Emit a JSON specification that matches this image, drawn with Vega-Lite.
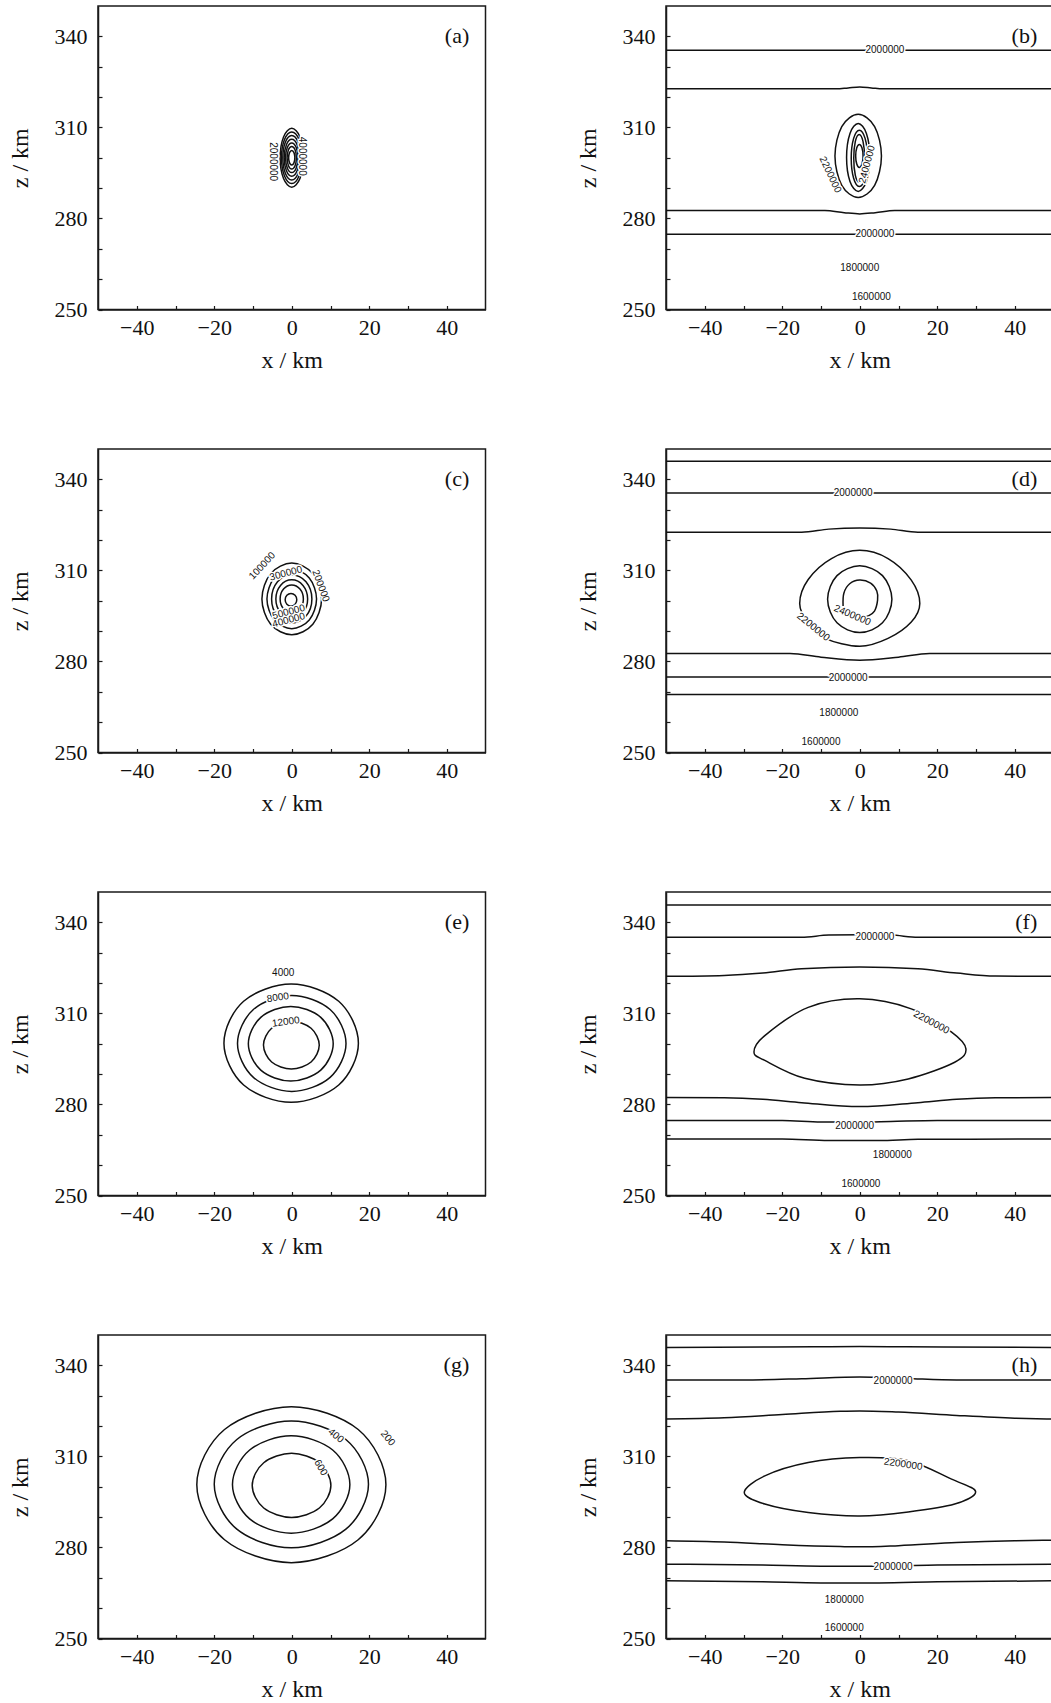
{
"$schema":"https://vega.github.io/schema/vega-lite/v6.json",
"background":"white",
"padding":{"left":7,"top":5,"right":0,"bottom":0},
"columns":2,
"spacing":{"row":139,"column":180},
"bounds":"flush",
"config":{
"view":{"stroke":"#1a1a1a","strokeWidth":1.5},
"axis":{"grid":false,"domainColor":"#1a1a1a","domainWidth":1.5,"tickColor":"#1a1a1a","tickWidth":1.2,"tickSize":-4,"labelFont":"Liberation Serif","labelFontSize":22,"labelColor":"#111","titleFont":"Liberation Serif","titleFontSize":24,"titleFontWeight":"normal","titleColor":"#111","labelOverlap":false,"labelFlush":false},
"axisX":{"labelPadding":12,"titlePadding":10},
"axisY":{"labelPadding":15,"titlePadding":22}
},
"datasets":{
"a_c":[
{"c":1,"x":3.0,"z":300},{"c":1,"x":2.12,"z":306.86},{"c":1,"x":0,"z":309.7},{"c":1,"x":-2.12,"z":306.86},{"c":1,"x":-3.0,"z":300},{"c":1,"x":-2.12,"z":293.14},{"c":1,"x":0,"z":290.3},{"c":1,"x":2.12,"z":293.14},
{"c":2,"x":2.65,"z":300},{"c":2,"x":1.87,"z":306.01},{"c":2,"x":0,"z":308.5},{"c":2,"x":-1.87,"z":306.01},{"c":2,"x":-2.65,"z":300},{"c":2,"x":-1.87,"z":293.99},{"c":2,"x":0,"z":291.5},{"c":2,"x":1.87,"z":293.99},
{"c":3,"x":2.3,"z":300},{"c":3,"x":1.63,"z":305.16},{"c":3,"x":0,"z":307.3},{"c":3,"x":-1.63,"z":305.16},{"c":3,"x":-2.3,"z":300},{"c":3,"x":-1.63,"z":294.84},{"c":3,"x":0,"z":292.7},{"c":3,"x":1.63,"z":294.84},
{"c":4,"x":1.95,"z":300},{"c":4,"x":1.38,"z":304.31},{"c":4,"x":0,"z":306.1},{"c":4,"x":-1.38,"z":304.31},{"c":4,"x":-1.95,"z":300},{"c":4,"x":-1.38,"z":295.69},{"c":4,"x":0,"z":293.9},{"c":4,"x":1.38,"z":295.69},
{"c":5,"x":1.6,"z":300},{"c":5,"x":1.13,"z":303.46},{"c":5,"x":0,"z":304.9},{"c":5,"x":-1.13,"z":303.46},{"c":5,"x":-1.6,"z":300},{"c":5,"x":-1.13,"z":296.54},{"c":5,"x":0,"z":295.1},{"c":5,"x":1.13,"z":296.54},
{"c":6,"x":1.2,"z":300},{"c":6,"x":0.85,"z":302.62},{"c":6,"x":0,"z":303.7},{"c":6,"x":-0.85,"z":302.62},{"c":6,"x":-1.2,"z":300},{"c":6,"x":-0.85,"z":297.38},{"c":6,"x":0,"z":296.3},{"c":6,"x":0.85,"z":297.38},
{"c":7,"x":0.8,"z":300},{"c":7,"x":0.57,"z":301.7},{"c":7,"x":0,"z":302.4},{"c":7,"x":-0.57,"z":301.7},{"c":7,"x":-0.8,"z":300},{"c":7,"x":-0.57,"z":298.3},{"c":7,"x":0,"z":297.6},{"c":7,"x":0.57,"z":298.3}
],
"a_l":[{"x":-4.9,"z":298.7,"t":"2000000","ang":90},{"x":2.6,"z":300.5,"t":"4000000","ang":90}],
"b_c":[
{"c":1,"x":5.6,"z":300.6},{"c":1,"x":3.84,"z":310.29},{"c":1,"x":-0.4,"z":314.3},{"c":1,"x":-4.64,"z":310.29},{"c":1,"x":-6.4,"z":300.6},{"c":1,"x":-4.64,"z":290.91},{"c":1,"x":-0.4,"z":286.9},{"c":1,"x":3.84,"z":290.91},
{"c":2,"x":2.6,"z":300.1},{"c":2,"x":1.72,"z":308.02},{"c":2,"x":-0.4,"z":311.3},{"c":2,"x":-2.52,"z":308.02},{"c":2,"x":-3.4,"z":300.1},{"c":2,"x":-2.52,"z":292.18},{"c":2,"x":-0.4,"z":288.9},{"c":2,"x":1.72,"z":292.18},
{"c":3,"x":2.0,"z":299.8},{"c":3,"x":1.38,"z":306.38},{"c":3,"x":-0.1,"z":309.1},{"c":3,"x":-1.58,"z":306.38},{"c":3,"x":-2.2,"z":299.8},{"c":3,"x":-1.58,"z":293.22},{"c":3,"x":-0.1,"z":290.5},{"c":3,"x":1.38,"z":293.22},
{"c":4,"x":1.25,"z":299.8},{"c":4,"x":0.84,"z":305.39},{"c":4,"x":-0.15,"z":307.7},{"c":4,"x":-1.14,"z":305.39},{"c":4,"x":-1.55,"z":299.8},{"c":4,"x":-1.14,"z":294.21},{"c":4,"x":-0.15,"z":291.9},{"c":4,"x":0.84,"z":294.21},
{"c":5,"x":0.85,"z":300.6},{"c":5,"x":0.57,"z":303.29},{"c":5,"x":-0.1,"z":304.4},{"c":5,"x":-0.77,"z":303.29},{"c":5,"x":-1.05,"z":300.6},{"c":5,"x":-0.77,"z":297.91},{"c":5,"x":-0.1,"z":296.8},{"c":5,"x":0.57,"z":297.91}
],
"b_o":[
{"c":1,"x":-50,"z":335.4},{"c":1,"x":50,"z":335.4},
{"c":2,"x":-50,"z":322.7},{"c":2,"x":-6,"z":322.7},{"c":2,"x":-3,"z":323.0},{"c":2,"x":0,"z":323.3},{"c":2,"x":3,"z":323.0},{"c":2,"x":6,"z":322.7},{"c":2,"x":50,"z":322.7},
{"c":3,"x":-50,"z":282.6},{"c":3,"x":-9,"z":282.6},{"c":3,"x":-4,"z":281.9},{"c":3,"x":0,"z":281.5},{"c":3,"x":4,"z":281.9},{"c":3,"x":9,"z":282.6},{"c":3,"x":50,"z":282.6},
{"c":4,"x":-50,"z":274.8},{"c":4,"x":50,"z":274.8}
],
"b_l":[{"x":6.5,"z":335.4,"t":"2000000","ang":0},{"x":3.9,"z":274.8,"t":"2000000","ang":0},{"x":0,"z":263.7,"t":"1800000","ang":0},{"x":3,"z":254,"t":"1600000","ang":0},{"x":-7.6,"z":294.4,"t":"2200000","ang":65},{"x":1.9,"z":297.8,"t":"2400000","ang":-75}],
"c_c":[
{"c":1,"x":7.7,"z":300.6},{"c":1,"x":5.44,"z":308.94},{"c":1,"x":0,"z":312.4},{"c":1,"x":-5.44,"z":308.94},{"c":1,"x":-7.7,"z":300.6},{"c":1,"x":-5.44,"z":292.26},{"c":1,"x":0,"z":288.8},{"c":1,"x":5.44,"z":292.26},
{"c":2,"x":6.4,"z":300.6},{"c":2,"x":4.52,"z":307.53},{"c":2,"x":0,"z":310.4},{"c":2,"x":-4.52,"z":307.53},{"c":2,"x":-6.4,"z":300.6},{"c":2,"x":-4.52,"z":293.67},{"c":2,"x":0,"z":290.8},{"c":2,"x":4.52,"z":293.67},
{"c":3,"x":5.2,"z":300.6},{"c":3,"x":3.68,"z":306.26},{"c":3,"x":0,"z":308.6},{"c":3,"x":-3.68,"z":306.26},{"c":3,"x":-5.2,"z":300.6},{"c":3,"x":-3.68,"z":294.94},{"c":3,"x":0,"z":292.6},{"c":3,"x":3.68,"z":294.94},
{"c":4,"x":4.1,"z":300.6},{"c":4,"x":2.9,"z":305.05},{"c":4,"x":0,"z":306.9},{"c":4,"x":-2.9,"z":305.05},{"c":4,"x":-4.1,"z":300.6},{"c":4,"x":-2.9,"z":296.15},{"c":4,"x":0,"z":294.3},{"c":4,"x":2.9,"z":296.15},
{"c":5,"x":3,"z":300.6},{"c":5,"x":2.12,"z":303.85},{"c":5,"x":0,"z":305.2},{"c":5,"x":-2.12,"z":303.85},{"c":5,"x":-3,"z":300.6},{"c":5,"x":-2.12,"z":297.35},{"c":5,"x":0,"z":296},{"c":5,"x":2.12,"z":297.35},
{"c":6,"x":1.3,"z":300.3},{"c":6,"x":0.86,"z":301.78},{"c":6,"x":-0.2,"z":302.4},{"c":6,"x":-1.26,"z":301.78},{"c":6,"x":-1.7,"z":300.3},{"c":6,"x":-1.26,"z":298.82},{"c":6,"x":-0.2,"z":298.2},{"c":6,"x":0.86,"z":298.82}
],
"c_l":[{"x":-7.6,"z":311.5,"t":"100000","ang":-47},{"x":-1.5,"z":309,"t":"300000","ang":-15},{"x":7.5,"z":304.9,"t":"200000","ang":70},{"x":-0.8,"z":296.3,"t":"500000","ang":-15},{"x":-0.8,"z":293.6,"t":"400000","ang":-15}],
"d_c":[
{"c":1,"x":-15.5,"z":299.1},{"c":1,"x":-13.3,"z":307},{"c":1,"x":-7.3,"z":313.9},{"c":1,"x":0,"z":316.6},{"c":1,"x":7.3,"z":313.9},{"c":1,"x":13.3,"z":306.8},{"c":1,"x":15.5,"z":299.1},{"c":1,"x":13.3,"z":293},{"c":1,"x":7.3,"z":287.6},{"c":1,"x":0,"z":285},{"c":1,"x":-9,"z":287.6},{"c":1,"x":-13.3,"z":292.5},
{"c":2,"x":8.3,"z":300.5},{"c":2,"x":5.87,"z":308.28},{"c":2,"x":0,"z":311.5},{"c":2,"x":-5.87,"z":308.28},{"c":2,"x":-8.3,"z":300.5},{"c":2,"x":-5.87,"z":292.72},{"c":2,"x":0,"z":289.5},{"c":2,"x":5.87,"z":292.72}
],
"d_arc":[{"c":1,"x":-4.3,"z":298.3},{"c":1,"x":-4.1,"z":302.5},{"c":1,"x":-2.6,"z":305.6},{"c":1,"x":0,"z":306.8},{"c":1,"x":2.8,"z":305.8},{"c":1,"x":4.4,"z":303.2},{"c":1,"x":4.6,"z":300.2},{"c":1,"x":3.8,"z":296.6},{"c":1,"x":2.2,"z":295},{"c":1,"x":0.6,"z":294.6}],
"d_o":[
{"c":1,"x":-50,"z":346},{"c":1,"x":50,"z":346},
{"c":2,"x":-50,"z":335.5},{"c":2,"x":50,"z":335.5},
{"c":3,"x":-50,"z":322.6},{"c":3,"x":-15,"z":322.6},{"c":3,"x":-8,"z":323.6},{"c":3,"x":0,"z":324},{"c":3,"x":8,"z":323.6},{"c":3,"x":15,"z":322.6},{"c":3,"x":50,"z":322.6},
{"c":4,"x":-50,"z":282.6},{"c":4,"x":-18,"z":282.6},{"c":4,"x":-10,"z":281.4},{"c":4,"x":0,"z":280.4},{"c":4,"x":10,"z":281.4},{"c":4,"x":18,"z":282.6},{"c":4,"x":50,"z":282.6},
{"c":5,"x":-50,"z":274.9},{"c":5,"x":50,"z":274.9},
{"c":6,"x":-50,"z":269.1},{"c":6,"x":50,"z":269.1}
],
"d_l":[{"x":-1.7,"z":335.5,"t":"2000000","ang":0},{"x":-1.9,"z":295.2,"t":"2400000","ang":23},{"x":-12,"z":291.4,"t":"2200000","ang":39},{"x":-3,"z":274.6,"t":"2000000","ang":0},{"x":-5.4,"z":263,"t":"1800000","ang":0},{"x":-10,"z":253.5,"t":"1600000","ang":0}],
"e_c":[
{"c":1,"x":17.2,"z":300.2},{"c":1,"x":12.12,"z":313.99},{"c":1,"x":-0.15,"z":319.7},{"c":1,"x":-12.42,"z":313.99},{"c":1,"x":-17.5,"z":300.2},{"c":1,"x":-12.42,"z":286.41},{"c":1,"x":-0.15,"z":280.7},{"c":1,"x":12.12,"z":286.41},
{"c":2,"x":14,"z":300.1},{"c":2,"x":9.9,"z":311.27},{"c":2,"x":0,"z":315.9},{"c":2,"x":-9.9,"z":311.27},{"c":2,"x":-14,"z":300.1},{"c":2,"x":-9.9,"z":288.93},{"c":2,"x":0,"z":284.3},{"c":2,"x":9.9,"z":288.93},
{"c":3,"x":10.7,"z":300},{"c":3,"x":7.49,"z":308.7},{"c":3,"x":-0.25,"z":312.3},{"c":3,"x":-7.99,"z":308.7},{"c":3,"x":-11.2,"z":300},{"c":3,"x":-7.99,"z":291.3},{"c":3,"x":-0.25,"z":287.7},{"c":3,"x":7.49,"z":291.3},
{"c":4,"x":7.1,"z":299.55},{"c":4,"x":4.99,"z":305.1},{"c":4,"x":-0.1,"z":307.4},{"c":4,"x":-5.19,"z":305.1},{"c":4,"x":-7.3,"z":299.55},{"c":4,"x":-5.19,"z":294},{"c":4,"x":-0.1,"z":291.7},{"c":4,"x":4.99,"z":294}
],
"e_l":[{"x":-2.2,"z":323.2,"t":"4000","ang":0},{"x":-3.6,"z":315.2,"t":"8000","ang":-8},{"x":-1.5,"z":307.2,"t":"12000","ang":-8}],
"f_c":[
{"c":1,"x":-27.3,"z":297.3},{"c":1,"x":-24.5,"z":302.7},{"c":1,"x":-13.3,"z":312},{"c":1,"x":0,"z":314.8},{"c":1,"x":13.3,"z":311.5},{"c":1,"x":23.7,"z":303.8},{"c":1,"x":27.4,"z":298.3},{"c":1,"x":24.5,"z":293.9},{"c":1,"x":12.5,"z":288.4},{"c":1,"x":0,"z":286.4},{"c":1,"x":-14.2,"z":288.6},{"c":1,"x":-24.5,"z":294.5}
],
"f_o":[
{"c":1,"x":-50,"z":345.7},{"c":1,"x":50,"z":345.7},
{"c":2,"x":-50,"z":335.1},{"c":2,"x":-15,"z":335.1},{"c":2,"x":-8,"z":335.8},{"c":2,"x":0,"z":335.9},{"c":2,"x":8,"z":335.8},{"c":2,"x":15,"z":335.1},{"c":2,"x":50,"z":335.1},
{"c":3,"x":-50,"z":322.2},{"c":3,"x":-35,"z":322.5},{"c":3,"x":-25,"z":323.3},{"c":3,"x":-15,"z":324.7},{"c":3,"x":0,"z":325.3},{"c":3,"x":15,"z":324.7},{"c":3,"x":25,"z":323.3},{"c":3,"x":35,"z":322.3},{"c":3,"x":50,"z":322.2},
{"c":4,"x":-50,"z":282.3},{"c":4,"x":-35,"z":282.2},{"c":4,"x":-25,"z":281.7},{"c":4,"x":-15,"z":280.6},{"c":4,"x":0,"z":279.3},{"c":4,"x":15,"z":280.6},{"c":4,"x":25,"z":281.7},{"c":4,"x":35,"z":282.2},{"c":4,"x":50,"z":282.3},
{"c":5,"x":-50,"z":274.7},{"c":5,"x":-20,"z":274.7},{"c":5,"x":-10,"z":274.2},{"c":5,"x":0,"z":274.2},{"c":5,"x":8,"z":274.4},{"c":5,"x":20,"z":274.7},{"c":5,"x":50,"z":274.7},
{"c":6,"x":-50,"z":268.6},{"c":6,"x":-20,"z":268.6},{"c":6,"x":-8,"z":268.1},{"c":6,"x":5,"z":268.1},{"c":6,"x":15,"z":268.5},{"c":6,"x":50,"z":268.6}
],
"f_l":[{"x":3.9,"z":335.1,"t":"2000000","ang":0},{"x":18.5,"z":307.1,"t":"2200000","ang":28},{"x":-1.3,"z":272.8,"t":"2000000","ang":0},{"x":8.4,"z":263.2,"t":"1800000","ang":0},{"x":0.3,"z":253.8,"t":"1600000","ang":0}],
"g_c":[
{"c":1,"x":24.3,"z":300.7},{"c":1,"x":17.15,"z":318.87},{"c":1,"x":-0.1,"z":326.4},{"c":1,"x":-17.35,"z":318.87},{"c":1,"x":-24.5,"z":300.7},{"c":1,"x":-17.35,"z":282.53},{"c":1,"x":-0.1,"z":275},{"c":1,"x":17.15,"z":282.53},
{"c":2,"x":19.8,"z":300.8},{"c":2,"x":13.97,"z":315.58},{"c":2,"x":-0.1,"z":321.7},{"c":2,"x":-14.17,"z":315.58},{"c":2,"x":-20,"z":300.8},{"c":2,"x":-14.17,"z":286.02},{"c":2,"x":-0.1,"z":279.9},{"c":2,"x":13.97,"z":286.02},
{"c":3,"x":15,"z":300.75},{"c":3,"x":10.56,"z":312.1},{"c":3,"x":-0.15,"z":316.8},{"c":3,"x":-10.86,"z":312.1},{"c":3,"x":-15.3,"z":300.75},{"c":3,"x":-10.86,"z":289.4},{"c":3,"x":-0.15,"z":284.7},{"c":3,"x":10.56,"z":289.4},
{"c":4,"x":10.1,"z":300.45},{"c":4,"x":7.13,"z":307.91},{"c":4,"x":-0.05,"z":311},{"c":4,"x":-7.23,"z":307.91},{"c":4,"x":-10.2,"z":300.45},{"c":4,"x":-7.23,"z":292.99},{"c":4,"x":-0.05,"z":289.9},{"c":4,"x":7.13,"z":292.99}
],
"g_l":[{"x":24.8,"z":316,"t":"200","ang":50},{"x":11.4,"z":316.8,"t":"400","ang":40},{"x":7.5,"z":306.3,"t":"600","ang":60}],
"h_c":[
{"c":1,"x":-29.8,"z":298.1},{"c":1,"x":-24.5,"z":303.6},{"c":1,"x":-13.3,"z":308},{"c":1,"x":0,"z":309.6},{"c":1,"x":12.5,"z":308.6},{"c":1,"x":23.7,"z":302.5},{"c":1,"x":29.9,"z":298.4},{"c":1,"x":24.5,"z":294.3},{"c":1,"x":12.5,"z":291.7},{"c":1,"x":0,"z":290.4},{"c":1,"x":-13.3,"z":291.5},{"c":1,"x":-24.5,"z":294.3}
],
"h_o":[
{"c":1,"x":-50,"z":345.9},{"c":1,"x":-12,"z":346.1},{"c":1,"x":0,"z":346.2},{"c":1,"x":12,"z":346.1},{"c":1,"x":50,"z":345.9},
{"c":2,"x":-50,"z":335.2},{"c":2,"x":-30,"z":335.2},{"c":2,"x":-15,"z":335.6},{"c":2,"x":0,"z":336.2},{"c":2,"x":12,"z":335.7},{"c":2,"x":25,"z":335.2},{"c":2,"x":50,"z":335.2},
{"c":3,"x":-50,"z":322.3},{"c":3,"x":-35,"z":322.7},{"c":3,"x":-20,"z":323.8},{"c":3,"x":-5,"z":324.9},{"c":3,"x":0,"z":325},{"c":3,"x":10,"z":324.6},{"c":3,"x":25,"z":323.5},{"c":3,"x":40,"z":322.6},{"c":3,"x":50,"z":322.3},
{"c":4,"x":-50,"z":282.2},{"c":4,"x":-35,"z":281.8},{"c":4,"x":-20,"z":280.9},{"c":4,"x":-5,"z":280.3},{"c":4,"x":0,"z":280.2},{"c":4,"x":10,"z":280.6},{"c":4,"x":25,"z":281.6},{"c":4,"x":40,"z":282.2},{"c":4,"x":50,"z":282.4},
{"c":5,"x":-50,"z":274.5},{"c":5,"x":-25,"z":274.2},{"c":5,"x":-10,"z":273.8},{"c":5,"x":5,"z":273.8},{"c":5,"x":20,"z":274.2},{"c":5,"x":50,"z":274.5},
{"c":6,"x":-50,"z":269},{"c":6,"x":-25,"z":268.7},{"c":6,"x":-10,"z":268.3},{"c":6,"x":5,"z":268.3},{"c":6,"x":20,"z":268.7},{"c":6,"x":50,"z":269}
],
"h_l":[{"x":8.6,"z":334.8,"t":"2000000","ang":0},{"x":11.2,"z":307.4,"t":"2200000","ang":8},{"x":8.6,"z":273.4,"t":"2000000","ang":0},{"x":-4,"z":262.7,"t":"1800000","ang":0},{"x":-4,"z":253.6,"t":"1600000","ang":0}]
},
"concat":[
{"width":387.5,"height":303.5,
"encoding":{"x":{"field":"x","type":"quantitative","scale":{"domain":[-50,50],"nice":false,"zero":false},"axis":{"title":"x / km","values":[-40,-30,-20,-10,0,10,20,30,40],"labelExpr":"datum.value % 20 === 0 ? datum.label : ''"}},"y":{"field":"z","type":"quantitative","scale":{"domain":[250,350],"nice":false,"zero":false},"axis":{"title":"z / km","values":[250,260,270,280,290,300,310,320,330,340],"labelExpr":"(datum.value - 250) % 30 === 0 ? datum.label : ''"}}},
"layer":[
{"data":{"name":"a_c"},"mark":{"type":"line","interpolate":"cardinal-closed","color":"#111","strokeWidth":1.5,"clip":true},"encoding":{"detail":{"field":"c"},"order":{"value":null}}},
{"data":{"name":"a_l"},"mark":{"type":"text","font":"Liberation Sans","fontSize":10,"fill":"white","stroke":"white","strokeWidth":3},"encoding":{"text":{"field":"t"},"angle":{"field":"ang","type":"quantitative","scale":null}}},
{"data":{"name":"a_l"},"mark":{"type":"text","font":"Liberation Sans","fontSize":10,"color":"#111"},"encoding":{"text":{"field":"t"},"angle":{"field":"ang","type":"quantitative","scale":null}}},
{"data":{"values":[{"x":45.8,"z":340,"t":"(a)"}]},"mark":{"type":"text","align":"right","font":"Liberation Serif","fontSize":22,"color":"#111"},"encoding":{"text":{"field":"t"}}}
]},
{"width":387.5,"height":303.5,
"encoding":{"x":{"field":"x","type":"quantitative","scale":{"domain":[-50,50],"nice":false,"zero":false},"axis":{"title":"x / km","values":[-40,-30,-20,-10,0,10,20,30,40],"labelExpr":"datum.value % 20 === 0 ? datum.label : ''"}},"y":{"field":"z","type":"quantitative","scale":{"domain":[250,350],"nice":false,"zero":false},"axis":{"title":"z / km","values":[250,260,270,280,290,300,310,320,330,340],"labelExpr":"(datum.value - 250) % 30 === 0 ? datum.label : ''"}}},
"layer":[
{"data":{"name":"b_c"},"mark":{"type":"line","interpolate":"cardinal-closed","color":"#111","strokeWidth":1.5,"clip":true},"encoding":{"detail":{"field":"c"},"order":{"value":null}}},
{"data":{"name":"b_o"},"mark":{"type":"line","interpolate":"monotone","color":"#111","strokeWidth":1.5,"clip":true},"encoding":{"detail":{"field":"c"},"order":{"value":null}}},
{"data":{"name":"b_l"},"mark":{"type":"text","font":"Liberation Sans","fontSize":10,"fill":"white","stroke":"white","strokeWidth":3},"encoding":{"text":{"field":"t"},"angle":{"field":"ang","type":"quantitative","scale":null}}},
{"data":{"name":"b_l"},"mark":{"type":"text","font":"Liberation Sans","fontSize":10,"color":"#111"},"encoding":{"text":{"field":"t"},"angle":{"field":"ang","type":"quantitative","scale":null}}},
{"data":{"values":[{"x":45.8,"z":340,"t":"(b)"}]},"mark":{"type":"text","align":"right","font":"Liberation Serif","fontSize":22,"color":"#111"},"encoding":{"text":{"field":"t"}}}
]},
{"width":387.5,"height":303.5,
"encoding":{"x":{"field":"x","type":"quantitative","scale":{"domain":[-50,50],"nice":false,"zero":false},"axis":{"title":"x / km","values":[-40,-30,-20,-10,0,10,20,30,40],"labelExpr":"datum.value % 20 === 0 ? datum.label : ''"}},"y":{"field":"z","type":"quantitative","scale":{"domain":[250,350],"nice":false,"zero":false},"axis":{"title":"z / km","values":[250,260,270,280,290,300,310,320,330,340],"labelExpr":"(datum.value - 250) % 30 === 0 ? datum.label : ''"}}},
"layer":[
{"data":{"name":"c_c"},"mark":{"type":"line","interpolate":"cardinal-closed","color":"#111","strokeWidth":1.5,"clip":true},"encoding":{"detail":{"field":"c"},"order":{"value":null}}},
{"data":{"name":"c_l"},"mark":{"type":"text","font":"Liberation Sans","fontSize":10,"fill":"white","stroke":"white","strokeWidth":3},"encoding":{"text":{"field":"t"},"angle":{"field":"ang","type":"quantitative","scale":null}}},
{"data":{"name":"c_l"},"mark":{"type":"text","font":"Liberation Sans","fontSize":10,"color":"#111"},"encoding":{"text":{"field":"t"},"angle":{"field":"ang","type":"quantitative","scale":null}}},
{"data":{"values":[{"x":45.8,"z":340,"t":"(c)"}]},"mark":{"type":"text","align":"right","font":"Liberation Serif","fontSize":22,"color":"#111"},"encoding":{"text":{"field":"t"}}}
]},
{"width":387.5,"height":303.5,
"encoding":{"x":{"field":"x","type":"quantitative","scale":{"domain":[-50,50],"nice":false,"zero":false},"axis":{"title":"x / km","values":[-40,-30,-20,-10,0,10,20,30,40],"labelExpr":"datum.value % 20 === 0 ? datum.label : ''"}},"y":{"field":"z","type":"quantitative","scale":{"domain":[250,350],"nice":false,"zero":false},"axis":{"title":"z / km","values":[250,260,270,280,290,300,310,320,330,340],"labelExpr":"(datum.value - 250) % 30 === 0 ? datum.label : ''"}}},
"layer":[
{"data":{"name":"d_c"},"mark":{"type":"line","interpolate":"cardinal-closed","color":"#111","strokeWidth":1.5,"clip":true},"encoding":{"detail":{"field":"c"},"order":{"value":null}}},
{"data":{"name":"d_arc"},"mark":{"type":"line","interpolate":"cardinal","color":"#111","strokeWidth":1.5,"clip":true},"encoding":{"detail":{"field":"c"},"order":{"value":null}}},
{"data":{"name":"d_o"},"mark":{"type":"line","interpolate":"monotone","color":"#111","strokeWidth":1.5,"clip":true},"encoding":{"detail":{"field":"c"},"order":{"value":null}}},
{"data":{"name":"d_l"},"mark":{"type":"text","font":"Liberation Sans","fontSize":10,"fill":"white","stroke":"white","strokeWidth":3},"encoding":{"text":{"field":"t"},"angle":{"field":"ang","type":"quantitative","scale":null}}},
{"data":{"name":"d_l"},"mark":{"type":"text","font":"Liberation Sans","fontSize":10,"color":"#111"},"encoding":{"text":{"field":"t"},"angle":{"field":"ang","type":"quantitative","scale":null}}},
{"data":{"values":[{"x":45.8,"z":340,"t":"(d)"}]},"mark":{"type":"text","align":"right","font":"Liberation Serif","fontSize":22,"color":"#111"},"encoding":{"text":{"field":"t"}}}
]},
{"width":387.5,"height":303.5,
"encoding":{"x":{"field":"x","type":"quantitative","scale":{"domain":[-50,50],"nice":false,"zero":false},"axis":{"title":"x / km","values":[-40,-30,-20,-10,0,10,20,30,40],"labelExpr":"datum.value % 20 === 0 ? datum.label : ''"}},"y":{"field":"z","type":"quantitative","scale":{"domain":[250,350],"nice":false,"zero":false},"axis":{"title":"z / km","values":[250,260,270,280,290,300,310,320,330,340],"labelExpr":"(datum.value - 250) % 30 === 0 ? datum.label : ''"}}},
"layer":[
{"data":{"name":"e_c"},"mark":{"type":"line","interpolate":"cardinal-closed","color":"#111","strokeWidth":1.5,"clip":true},"encoding":{"detail":{"field":"c"},"order":{"value":null}}},
{"data":{"name":"e_l"},"mark":{"type":"text","font":"Liberation Sans","fontSize":10,"fill":"white","stroke":"white","strokeWidth":3},"encoding":{"text":{"field":"t"},"angle":{"field":"ang","type":"quantitative","scale":null}}},
{"data":{"name":"e_l"},"mark":{"type":"text","font":"Liberation Sans","fontSize":10,"color":"#111"},"encoding":{"text":{"field":"t"},"angle":{"field":"ang","type":"quantitative","scale":null}}},
{"data":{"values":[{"x":45.8,"z":340,"t":"(e)"}]},"mark":{"type":"text","align":"right","font":"Liberation Serif","fontSize":22,"color":"#111"},"encoding":{"text":{"field":"t"}}}
]},
{"width":387.5,"height":303.5,
"encoding":{"x":{"field":"x","type":"quantitative","scale":{"domain":[-50,50],"nice":false,"zero":false},"axis":{"title":"x / km","values":[-40,-30,-20,-10,0,10,20,30,40],"labelExpr":"datum.value % 20 === 0 ? datum.label : ''"}},"y":{"field":"z","type":"quantitative","scale":{"domain":[250,350],"nice":false,"zero":false},"axis":{"title":"z / km","values":[250,260,270,280,290,300,310,320,330,340],"labelExpr":"(datum.value - 250) % 30 === 0 ? datum.label : ''"}}},
"layer":[
{"data":{"name":"f_c"},"mark":{"type":"line","interpolate":"cardinal-closed","color":"#111","strokeWidth":1.5,"clip":true},"encoding":{"detail":{"field":"c"},"order":{"value":null}}},
{"data":{"name":"f_o"},"mark":{"type":"line","interpolate":"monotone","color":"#111","strokeWidth":1.5,"clip":true},"encoding":{"detail":{"field":"c"},"order":{"value":null}}},
{"data":{"name":"f_l"},"mark":{"type":"text","font":"Liberation Sans","fontSize":10,"fill":"white","stroke":"white","strokeWidth":3},"encoding":{"text":{"field":"t"},"angle":{"field":"ang","type":"quantitative","scale":null}}},
{"data":{"name":"f_l"},"mark":{"type":"text","font":"Liberation Sans","fontSize":10,"color":"#111"},"encoding":{"text":{"field":"t"},"angle":{"field":"ang","type":"quantitative","scale":null}}},
{"data":{"values":[{"x":45.8,"z":340,"t":"(f)"}]},"mark":{"type":"text","align":"right","font":"Liberation Serif","fontSize":22,"color":"#111"},"encoding":{"text":{"field":"t"}}}
]},
{"width":387.5,"height":303.5,
"encoding":{"x":{"field":"x","type":"quantitative","scale":{"domain":[-50,50],"nice":false,"zero":false},"axis":{"title":"x / km","values":[-40,-30,-20,-10,0,10,20,30,40],"labelExpr":"datum.value % 20 === 0 ? datum.label : ''"}},"y":{"field":"z","type":"quantitative","scale":{"domain":[250,350],"nice":false,"zero":false},"axis":{"title":"z / km","values":[250,260,270,280,290,300,310,320,330,340],"labelExpr":"(datum.value - 250) % 30 === 0 ? datum.label : ''"}}},
"layer":[
{"data":{"name":"g_c"},"mark":{"type":"line","interpolate":"cardinal-closed","color":"#111","strokeWidth":1.5,"clip":true},"encoding":{"detail":{"field":"c"},"order":{"value":null}}},
{"data":{"name":"g_l"},"mark":{"type":"text","font":"Liberation Sans","fontSize":10,"fill":"white","stroke":"white","strokeWidth":3},"encoding":{"text":{"field":"t"},"angle":{"field":"ang","type":"quantitative","scale":null}}},
{"data":{"name":"g_l"},"mark":{"type":"text","font":"Liberation Sans","fontSize":10,"color":"#111"},"encoding":{"text":{"field":"t"},"angle":{"field":"ang","type":"quantitative","scale":null}}},
{"data":{"values":[{"x":45.8,"z":340,"t":"(g)"}]},"mark":{"type":"text","align":"right","font":"Liberation Serif","fontSize":22,"color":"#111"},"encoding":{"text":{"field":"t"}}}
]},
{"width":387.5,"height":303.5,
"encoding":{"x":{"field":"x","type":"quantitative","scale":{"domain":[-50,50],"nice":false,"zero":false},"axis":{"title":"x / km","values":[-40,-30,-20,-10,0,10,20,30,40],"labelExpr":"datum.value % 20 === 0 ? datum.label : ''"}},"y":{"field":"z","type":"quantitative","scale":{"domain":[250,350],"nice":false,"zero":false},"axis":{"title":"z / km","values":[250,260,270,280,290,300,310,320,330,340],"labelExpr":"(datum.value - 250) % 30 === 0 ? datum.label : ''"}}},
"layer":[
{"data":{"name":"h_c"},"mark":{"type":"line","interpolate":"cardinal-closed","color":"#111","strokeWidth":1.5,"clip":true},"encoding":{"detail":{"field":"c"},"order":{"value":null}}},
{"data":{"name":"h_o"},"mark":{"type":"line","interpolate":"monotone","color":"#111","strokeWidth":1.5,"clip":true},"encoding":{"detail":{"field":"c"},"order":{"value":null}}},
{"data":{"name":"h_l"},"mark":{"type":"text","font":"Liberation Sans","fontSize":10,"fill":"white","stroke":"white","strokeWidth":3},"encoding":{"text":{"field":"t"},"angle":{"field":"ang","type":"quantitative","scale":null}}},
{"data":{"name":"h_l"},"mark":{"type":"text","font":"Liberation Sans","fontSize":10,"color":"#111"},"encoding":{"text":{"field":"t"},"angle":{"field":"ang","type":"quantitative","scale":null}}},
{"data":{"values":[{"x":45.8,"z":340,"t":"(h)"}]},"mark":{"type":"text","align":"right","font":"Liberation Serif","fontSize":22,"color":"#111"},"encoding":{"text":{"field":"t"}}}
]}
]
}
